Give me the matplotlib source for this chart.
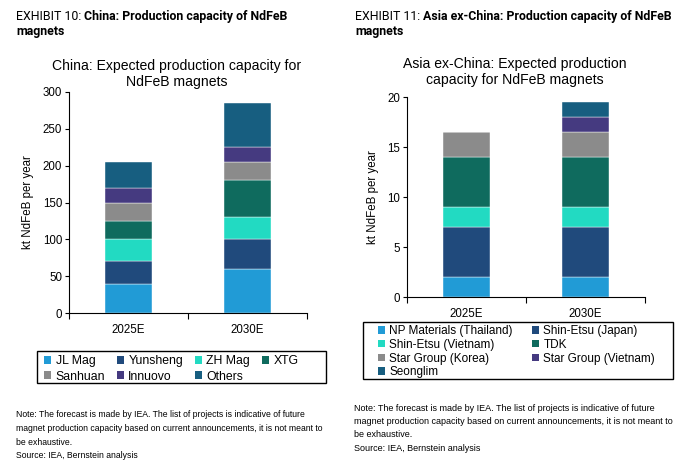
import matplotlib
matplotlib.use("Agg")
import matplotlib.pyplot as plt
from matplotlib.patches import Patch, Rectangle
import numpy as np

plt.rcParams['font.family'] = ['Liberation Sans', 'DejaVu Sans']

years = ["2025E", "2030E"]

# China, kt NdFeB per year
china_names = ["JL Mag", "Yunsheng", "ZH Mag", "XTG", "Sanhuan", "Innuovo", "Others"]
china_vals = [
    [40, 60],
    [30, 40],
    [30, 30],
    [25, 50],
    [25, 25],
    [20, 20],
    [35, 60],
]

# Asia ex-China, kt NdFeB per year
asia_names = ["NP Materials (Thailand)", "Shin-Etsu (Japan)", "Shin-Etsu (Vietnam)", "TDK",
              "Star Group (Korea)", "Star Group (Vietnam)", "Seonglim"]
asia_vals = [
    [2, 2],
    [5, 5],
    [2, 2],
    [5, 5],
    [2.5, 2.5],
    [0, 1.5],
    [0, 1.5],
]

colors = ["#219bd6", "#204a7c", "#22dac2", "#0f6b5e", "#8b8b8b", "#453a80", "#175e80"]

W, H = 694, 463
fig = plt.figure(figsize=(W / 100, H / 100), dpi=100)


def px(x0, y0, x1, y1):
    # pixel box -> figure fraction rect
    return [x0 / W, 1 - y1 / H, (x1 - x0) / W, (y1 - y0) / H]


def stacked(ax, vals, ymax, yticks):
    x = np.arange(len(years))
    bottom = np.zeros(len(years))
    for v, c in zip(vals, colors):
        v = np.array(v, dtype=float)
        ax.bar(x, v, 0.4, bottom=bottom, color=c, edgecolor="#ffffff", linewidth=0.3)
        bottom += v
    ax.set_xlim(-0.5, 1.5)
    ax.set_ylim(0, ymax)
    ax.set_yticks(yticks)
    ax.set_xticks(x)
    ax.set_xticklabels(years)
    ax.set_xticks([-0.5, 0.5, 1.5], minor=True)
    ax.tick_params(axis="x", which="major", length=0, pad=8, labelsize=8.3)
    ax.tick_params(axis="x", which="minor", length=4, width=0.8, direction="out")
    ax.tick_params(axis="y", length=3, width=0.8, labelsize=8.3, pad=2)
    ax.spines["top"].set_visible(False)
    ax.spines["right"].set_visible(False)
    ax.set_ylabel("kt NdFeB per year", fontsize=8.3, labelpad=6)


def header(x, y, num, title):
    t = fig.text(x / W, 1 - y / H, "EXHIBIT %d: " % num, fontsize=8.9, family="Roboto",
                 va="top", ha="left")
    fig.canvas.draw()
    bb = t.get_window_extent()
    fig.text(bb.x1 / W, 1 - y / H, title[0], fontsize=8.9, family="Roboto", weight="bold",
             va="top", ha="left")
    fig.text(x / W, 1 - (y + 15) / H, title[1], fontsize=8.9, family="Roboto", weight="bold",
             va="top", ha="left")


def legend_box(handles, labels, x, y, ncol, fs, ls, cs, box):
    leg = fig.legend(handles, labels, ncol=ncol, loc="upper left",
                     bbox_to_anchor=(x / W, 1 - y / H), fontsize=fs, frameon=False,
                     handlelength=0.6, handleheight=0.6, handletextpad=0.35,
                     borderpad=0, labelspacing=ls, columnspacing=cs, borderaxespad=0)
    x0, y0, x1, y1 = box
    fig.patches.append(Rectangle((x0 / W, 1 - y1 / H), (x1 - x0) / W, (y1 - y0) / H,
                                 transform=fig.transFigure, fill=False,
                                 edgecolor="black", linewidth=1.0))
    return leg


note = ("Note: The forecast is made by IEA. The list of projects is indicative of future\n"
        "magnet production capacity based on current announcements, it is not meant to\n"
        "be exhaustive.\n"
        "Source: IEA, Bernstein analysis")

h = [Patch(facecolor=c, edgecolor="none") for c in colors]

# left chart
ax1 = fig.add_axes(px(69, 92, 307, 313))
stacked(ax1, china_vals, 300, range(0, 301, 50))
fig.text(177 / W, 1 - 59 / H, "China: Expected production capacity for\nNdFeB magnets",
         ha="center", va="top", fontsize=10.1, linespacing=1.15)
order = [0, 4, 1, 5, 2, 6, 3]
legend_box([h[i] for i in order], [china_names[i] for i in order], 44, 355, 4, 8.8, 0.3, 0.95,
           (37, 351, 326, 383))

# right chart
ax2 = fig.add_axes(px(407, 97, 645, 297))
stacked(ax2, asia_vals, 20, range(0, 21, 5))
fig.text(515 / W, 1 - 57 / H, "Asia ex-China: Expected production\ncapacity for NdFeB magnets",
         ha="center", va="top", fontsize=10.1, linespacing=1.15)
order = [0, 2, 4, 6, 1, 3, 5]
legend_box([h[i] for i in order], [asia_names[i] for i in order], 378, 325, 2, 8.5, 0.15, 1.65,
           (363, 322, 673, 379))

header(16, 10, 10, ["China: Production capacity of NdFeB", "magnets"])
header(355, 10, 11, ["Asia ex-China: Production capacity of NdFeB", "magnets"])

fig.text(16 / W, 1 - 410 / H, note, fontsize=6.25, va="top", ha="left", linespacing=1.68)
fig.text(354 / W, 1 - 404 / H, note, fontsize=6.45, va="top", ha="left", linespacing=1.6)

fig.savefig("out.png", dpi=100)
